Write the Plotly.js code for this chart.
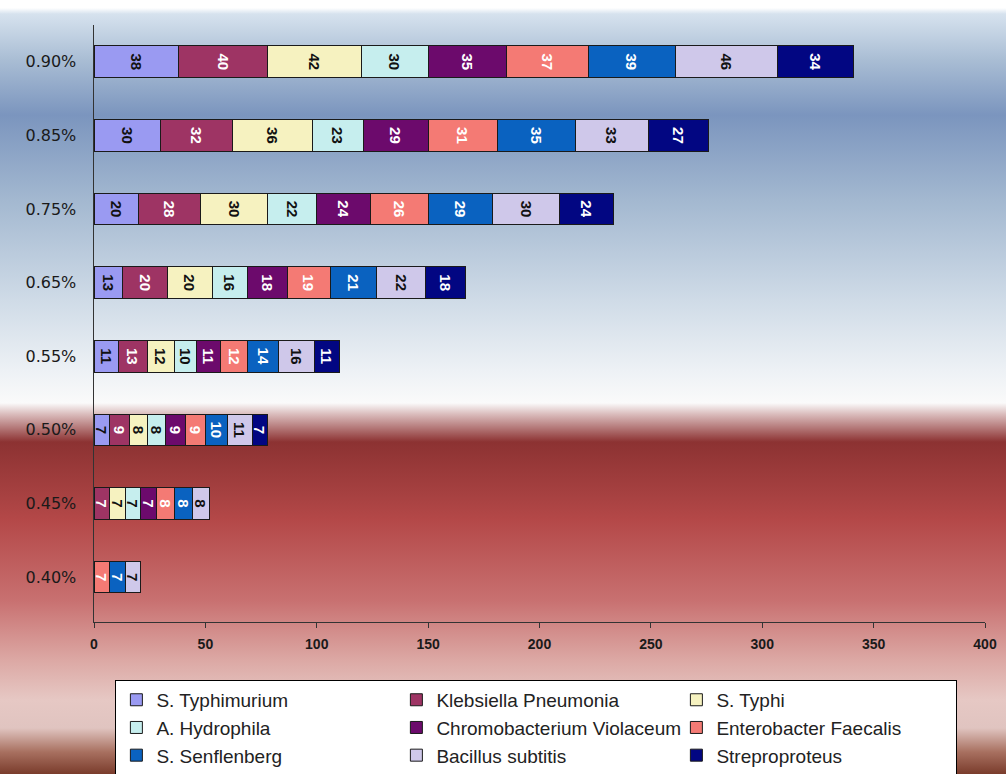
<!DOCTYPE html>
<html>
<head>
<meta charset="utf-8">
<script src="https://cdn.plot.ly/plotly-3.0.1.min.js"></script>
<style>
html, body { margin:0; padding:0; }
body {
  width:1006px; height:774px; overflow:hidden;
  background: linear-gradient(to bottom,
    #ffffff 0px, #ffffff 8px, #d6e2ee 14px, #a9bdd4 60px, #7b95be 115px,
    #a3b8d0 200px, #cfdbe7 300px, #edf1f5 370px, #fafafa 403px,
    #d8b8b8 415px, #8c3232 442px, #9a3a3a 470px, #b44848 520px,
    #c87070 600px, #dca8a4 660px, #e6c8c4 700px, #e0c4c0 728px,
    #a87060 752px, #7a3c2c 774px);
}
#chart { width:1006px; height:774px; }
</style>
</head>
<body>
<div id="chart"></div>
<script>
const categories = ["0.40%", "0.45%", "0.50%", "0.55%", "0.65%", "0.75%", "0.85%", "0.90%"];
const seriesNames = ["S. Typhimurium", "Klebsiella Pneumonia", "S. Typhi", "A. Hydrophila",
  "Chromobacterium Violaceum", "Enterobacter Faecalis", "S. Senflenberg", "Bacillus subtitis", "Streproproteus"];
const sTyphimurium   = [0, 0, 7, 11, 13, 20, 30, 38];
const klebsiella     = [0, 7, 9, 13, 20, 28, 32, 40];
const sTyphi         = [0, 7, 8, 12, 20, 30, 36, 42];
const aHydrophila    = [0, 7, 8, 10, 16, 22, 23, 30];
const chromobacterium= [0, 7, 9, 11, 18, 24, 29, 35];
const enterobacter   = [7, 8, 9, 12, 19, 26, 31, 37];
const sSenflenberg   = [7, 8, 10, 14, 21, 29, 35, 39];
const bacillus       = [7, 8, 11, 16, 22, 30, 33, 46];
const streproproteus = [0, 0, 7, 11, 18, 24, 27, 34];
const xTicks = [0, 50, 100, 150, 200, 250, 300, 350, 400];

const seriesValues = [sTyphimurium, klebsiella, sTyphi, aHydrophila, chromobacterium,
  enterobacter, sSenflenberg, bacillus, streproproteus];
const colors = ["#9a9af2", "#9e3464", "#f6f2c0", "#c6eeee", "#6c0a6c",
  "#f47a74", "#0a62c0", "#cfc8ea", "#020682"];
const textColors = ["#111", "#fff", "#111", "#111", "#fff", "#fff", "#fff", "#111", "#fff"];

const traces = seriesNames.map((name, i) => ({
  type: "bar",
  orientation: "h",
  name: name,
  y: categories,
  x: seriesValues[i],
  text: seriesValues[i].map(v => v ? String(v) : ""),
  textposition: "inside",
  insidetextanchor: "middle",
  textangle: 90,
  constraintext: "none",
  textfont: { family: "Liberation Sans, Arial, sans-serif", size: 15, color: textColors[i], weight: "bold" },
  marker: { color: colors[i], line: { color: "#1a1a1a", width: 1 } },
  hoverinfo: "x+name"
}));

const layout = {
  width: 1006, height: 774,
  barmode: "stack",
  bargap: 0.57,
  paper_bgcolor: "rgba(0,0,0,0)",
  plot_bgcolor: "rgba(0,0,0,0)",
  margin: { l: 94, r: 21, t: 25, b: 152, autoexpand: false },
  font: { family: "Liberation Sans, Arial, sans-serif", color: "#222" },
  xaxis: {
    range: [0, 400],
    tickvals: xTicks,
    ticktext: xTicks.map(String),
    showgrid: false, zeroline: false,
    showline: true, linecolor: "#333", linewidth: 1,
    ticks: "outside", ticklen: 5, tickcolor: "#333",
    ticklabelstandoff: 4,
    tickfont: { size: 14, color: "#1a1a1a", weight: "bold" },
    fixedrange: true
  },
  yaxis: {
    type: "category",
    categoryorder: "array", categoryarray: categories,
    range: [-0.61, 7.5],
    showgrid: false, zeroline: false,
    showline: true, linecolor: "#333", linewidth: 1.5,
    ticks: "", ticklabelstandoff: 13,
    tickfont: { size: 16, color: "#1a1a1a", family: "DejaVu Sans, Verdana, sans-serif" },
    fixedrange: true
  },
  showlegend: true,
  legend: {
    orientation: "h",
    x: 0.024, xanchor: "left",
    y: -0.097, yanchor: "top",
    bgcolor: "#ffffff",
    bordercolor: "#000000", borderwidth: 1,
    font: { size: 19, color: "#222", family: "Liberation Sans, Arial, sans-serif" },
    entrywidth: 235, entrywidthmode: "pixels",
    itemwidth: 30,
    traceorder: "normal"
  }
};

Plotly.newPlot("chart", traces, layout, { displayModeBar: false, staticPlot: true });
</script>
</body>
</html>
